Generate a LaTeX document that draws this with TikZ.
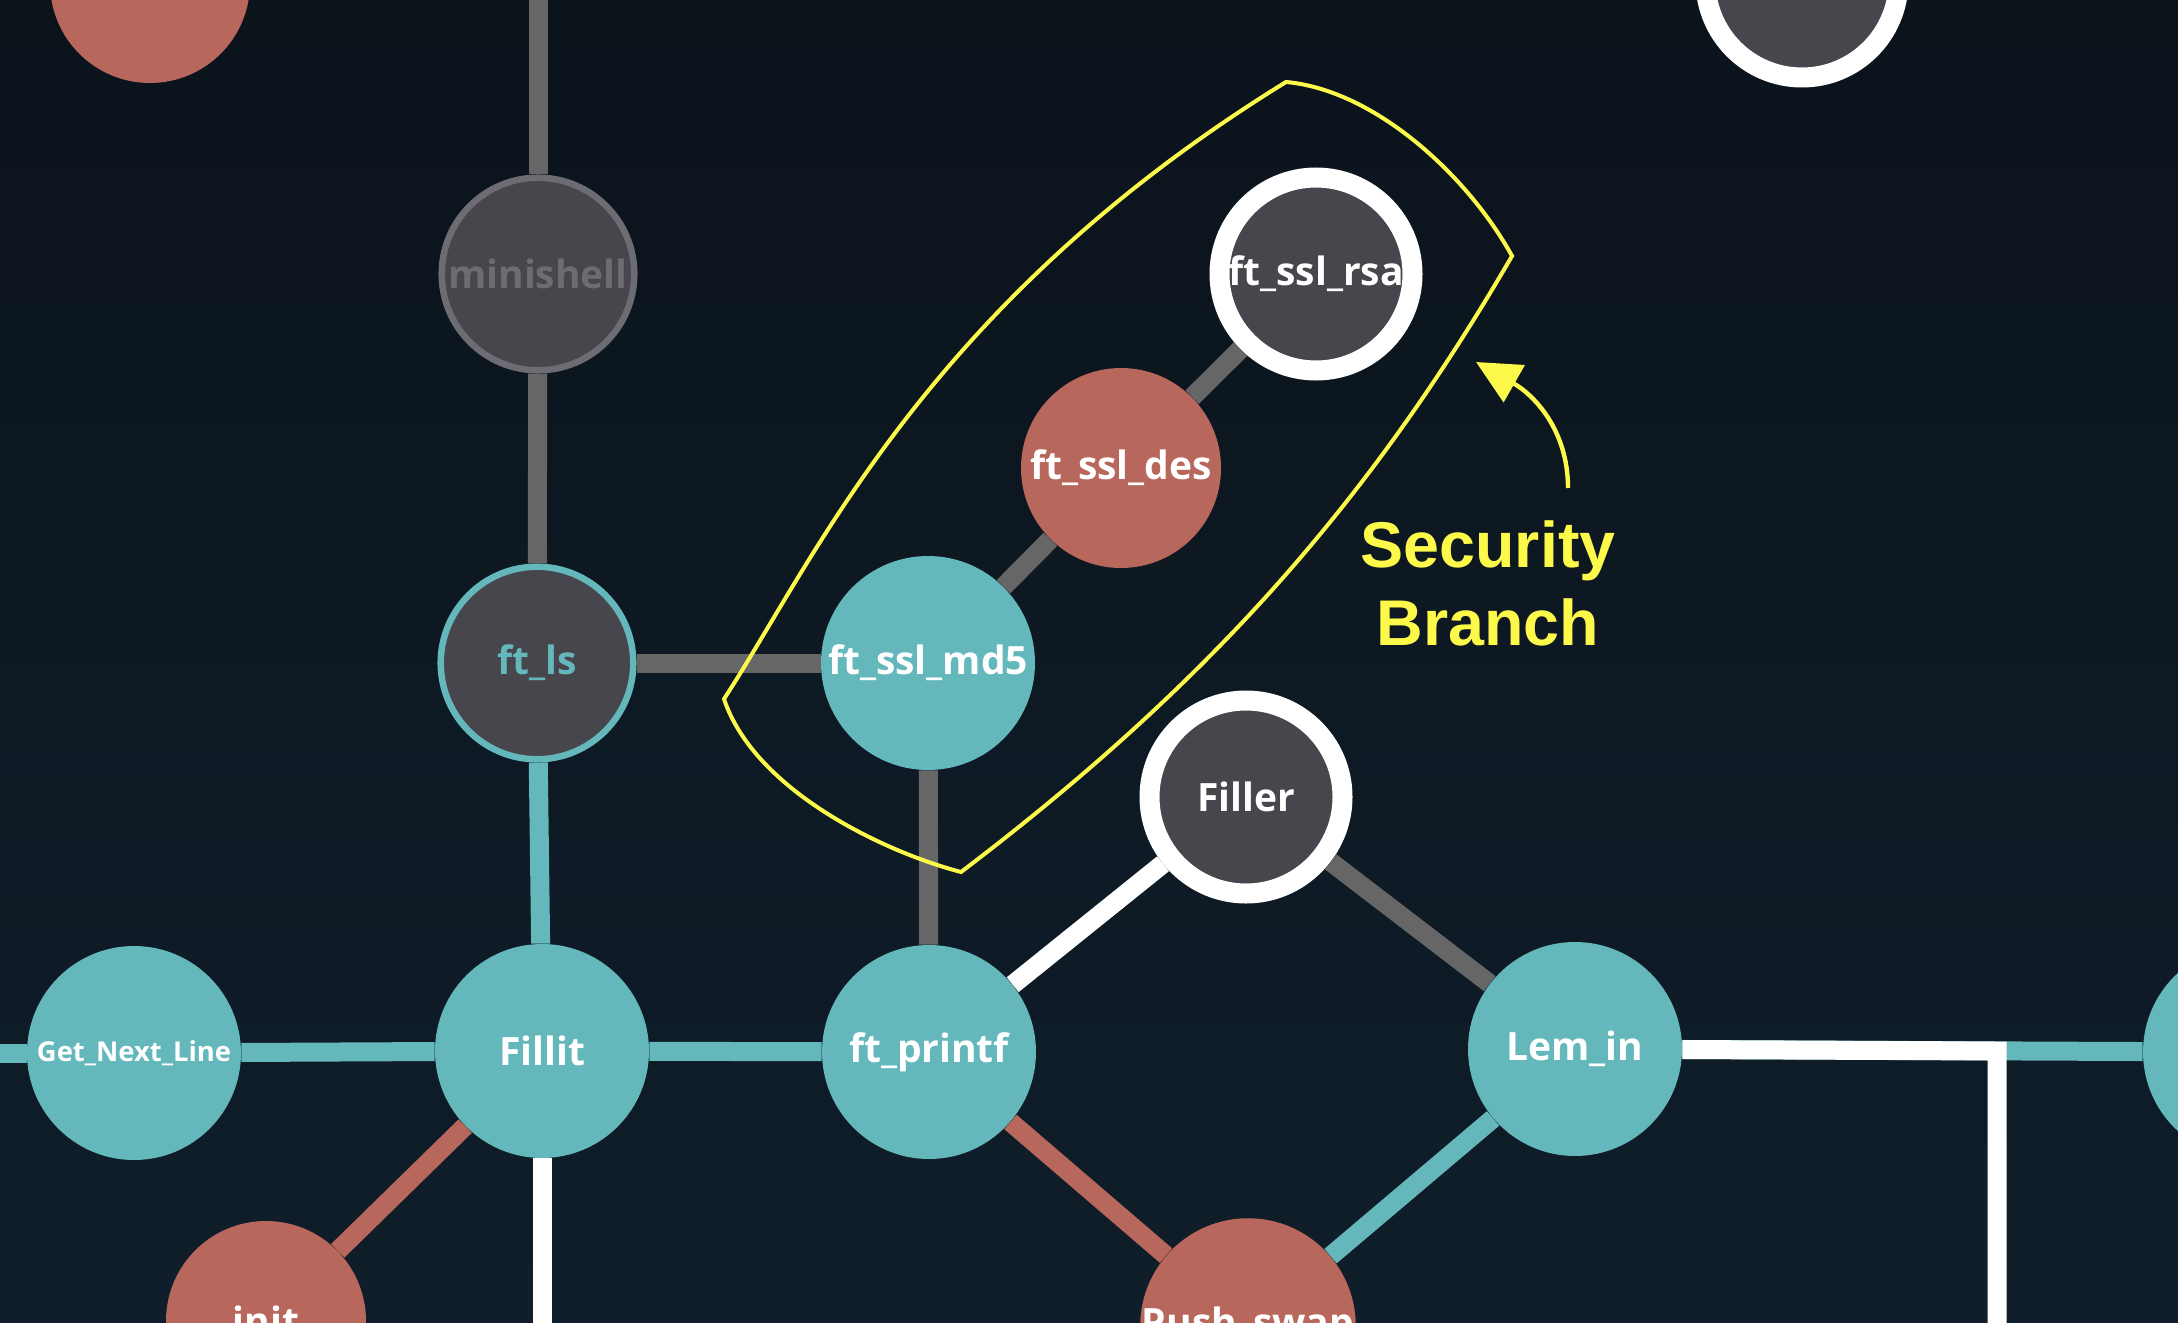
\documentclass[tikz,border=0pt]{standalone}
\usepackage{fontspec}
\newfontfamily\labelfont{Open Sans}
\newfontfamily\calloutfont{Liberation Sans}
\usetikzlibrary{arrows.meta}

\definecolor{bgtop}{HTML}{0B131B}
\definecolor{bgbottom}{HTML}{0F1E2A}
\definecolor{projteal}{HTML}{64B7BB}
\definecolor{projred}{HTML}{B8675C}
\definecolor{projdark}{HTML}{47464C}
\definecolor{edgegray}{HTML}{666666}
\definecolor{lockgray}{HTML}{6C6C72}
\definecolor{marker}{HTML}{FDF94A}

\begin{document}
\begin{tikzpicture}[x=0.5pt, y=-0.5pt]
\tikzstyle{proj} = [circle, inner sep=0pt, text=white,
  font=\labelfont\bfseries\fontsize{19.5}{23}\selectfont]
\tikzstyle{done} = [proj, fill=projteal, minimum size=107pt]
\tikzstyle{fail} = [proj, fill=projred, minimum size=100pt]
\tikzstyle{avail} = [proj, fill=projdark, draw=white, line width=10pt, minimum size=96.5pt]
\tikzstyle{locked} = [proj, fill=projdark, line width=3.25pt, minimum size=96.3pt]
\tikzstyle{wire} = [line width=9.5pt]
\tikzstyle{grayline} = [wire, draw=edgegray]
\tikzstyle{tealline} = [wire, draw=projteal]
\tikzstyle{redline} = [wire, draw=projred]
\tikzstyle{whiteline} = [wire, draw=white, line join=miter]
\tikzstyle{branch} = [draw=marker, line width=2pt, line join=miter]
\tikzstyle{pointer} = [draw=marker, line width=2.2pt, -{Triangle[length=22pt, width=21pt]}]
\tikzstyle{callout} = [align=center, inner sep=0pt, text=marker,
  font=\calloutfont\bfseries\fontsize{32.3}{38.9}\selectfont]

\useasboundingbox (0,0) rectangle (2178,1322);
\clip (0,0) rectangle (2178,1322);
\fill[top color=bgtop, bottom color=bgbottom] (0,0) rectangle (2178,1322);

\node[fail] (RedTop) at (150,-17) {};
\node[avail] (DarkTop) at (1802,-19) {};
\node[locked, draw=lockgray, text=lockgray] (Minishell) at (538,274) {minishell};
\node[locked, draw=projteal, text=projteal] (FtLs) at (537,663) {ft\_ls};
\node[done] (Md5) at (928,663) {ft\_ssl\_md5};
\node[fail] (Des) at (1121,468) {ft\_ssl\_des};
\node[avail] (Rsa) at (1316,274) {ft\_ssl\_rsa};
\node[avail] (Filler) at (1246,797) {Filler};
\node[done, font=\labelfont\bfseries\fontsize{13.7}{16}\selectfont] (Gnl) at (134,1053) {Get\_Next\_Line};
\node[done] (Fillit) at (542,1051) {Fillit};
\node[done] (Printf) at (929,1052) {ft\_printf};
\node[done] (LemIn) at (1575,1049) {Lem\_in};
\node[done] (TealRight) at (2250,1052) {};
\node[fail] (Init) at (266,1321) {init};
\node[fail] (PushSwap) at (1248,1326) {Push\_swap};

\coordinate (MinishellUp) at (538,-20);
\coordinate (GnlLeft) at (-20,1053);
\coordinate (FillitDown) at (542,1345);
\coordinate (LemCorner) at (1997,1051);
\coordinate (LemDown) at (1997,1345);

\draw[grayline] (Minishell) -- (MinishellUp);
\draw[grayline] (Minishell) -- (FtLs);
\draw[grayline] (FtLs) -- (Md5);
\draw[grayline] (Md5) -- (Des);
\draw[grayline] (Des) -- (Rsa);
\draw[grayline] (Md5) -- (Printf);
\draw[grayline] (Filler) -- (LemIn);
\draw[tealline] (FtLs) -- (Fillit);
\draw[tealline] (GnlLeft) -- (Gnl);
\draw[tealline] (Gnl) -- (Fillit);
\draw[tealline] (Fillit) -- (Printf);
\draw[tealline] (PushSwap) -- (LemIn);
\draw[tealline] (LemIn) -- (TealRight);
\draw[redline] (Fillit) -- (Init);
\draw[redline] (Printf) -- (PushSwap);
\draw[whiteline] (Printf) -- (Filler);
\draw[whiteline] (Fillit) -- (FillitDown);
\draw[whiteline] (LemIn) -- (LemCorner) -- (LemDown);

\draw[branch] (1286,82) .. controls (1375,90) and (1468,176) .. (1512,256)
  .. controls (1372,497) and (1214,680) .. (961,872)
  .. controls (881,851) and (754,789) .. (724,699)
  .. controls (817,556) and (926,304) .. (1286,82) -- cycle;

\node[callout] (SecurityLabel) at (1488,583.5) {Security\\Branch};
\coordinate (ArrowFoot) at (1568,488);
\coordinate (ArrowTip) at (1476,362);
\draw[pointer] (ArrowFoot) .. controls (1568,430) and (1534,395) .. (ArrowTip);

\end{tikzpicture}
\end{document}
